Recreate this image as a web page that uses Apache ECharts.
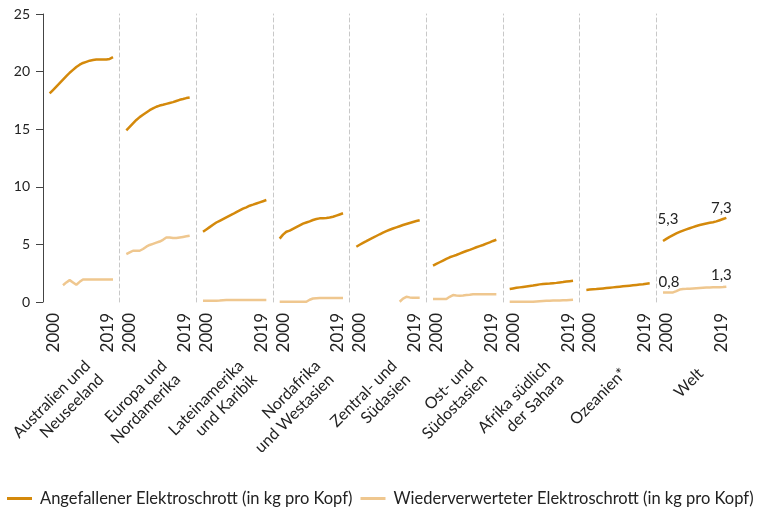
<!DOCTYPE html>
<html><head><meta charset="utf-8">
<script src="https://cdn.jsdelivr.net/npm/echarts@6/dist/echarts.min.js"></script>
<style>html,body{margin:0;padding:0;background:#fff}#c{width:771px;height:510px}</style>
</head><body><div id="c"></div>
<script>
// ---- data ----
const years = [2000,2001,2002,2003,2004,2005,2006,2007,2008,2009,2010,2011,2012,2013,2014,2015,2016,2017,2018,2019];
const regions = ['Australien und\nNeuseeland','Europa und\nNordamerika','Lateinamerika\nund Karibik','Nordafrika\nund Westasien','Zentral- und\nSüdasien','Ost- und\nSüdostasien','Afrika südlich\nder Sahara','Ozeanien*','Welt'];
const yTicks = [0,5,10,15,20,25];
const xTickLabels = [2000, 2019];
const seriesNames = ['Angefallener Elektroschrott (in kg pro Kopf)','Wiederverwerteter Elektroschrott (in kg pro Kopf)'];

const genAusNz  = [18.1,18.4,18.7,19.0,19.3,19.6,19.9,20.15,20.4,20.6,20.75,20.85,20.95,21.0,21.05,21.05,21.05,21.05,21.1,21.25];
const recAusNz  = [null,null,null,null,1.45,1.7,1.9,1.7,1.5,1.75,1.95,1.95,1.95,1.95,1.95,1.95,1.95,1.95,1.95,1.95];
const genEuNa   = [14.9,15.2,15.5,15.8,16.05,16.25,16.45,16.65,16.8,16.95,17.05,17.12,17.2,17.28,17.35,17.45,17.55,17.62,17.7,17.75];
const recEuNa   = [4.15,4.3,4.45,4.45,4.45,4.6,4.8,4.95,5.05,5.15,5.25,5.4,5.6,5.6,5.55,5.55,5.6,5.65,5.7,5.75];
const genLatAm  = [6.1,6.3,6.5,6.7,6.9,7.05,7.2,7.35,7.5,7.64,7.8,7.95,8.1,8.22,8.36,8.45,8.55,8.65,8.75,8.85];
const recLatAm  = [0.1,0.1,0.1,0.1,0.1,0.12,0.15,0.17,0.17,0.17,0.17,0.17,0.17,0.17,0.17,0.17,0.17,0.17,0.17,0.17];
const genNafWas = [5.5,5.85,6.1,6.2,6.35,6.5,6.65,6.8,6.9,7.0,7.12,7.2,7.26,7.28,7.3,7.33,7.4,7.5,7.6,7.7];
const recNafWas = [0.02,0.02,0.02,0.02,0.02,0.02,0.02,0.02,0.02,0.2,0.3,0.33,0.35,0.35,0.35,0.35,0.35,0.35,0.35,0.35];
const genZsa    = [4.8,4.97,5.13,5.28,5.44,5.58,5.73,5.88,6.02,6.15,6.27,6.38,6.48,6.58,6.68,6.77,6.86,6.95,7.03,7.1];
const recZsa    = [null,null,null,null,null,null,null,null,null,null,null,null,null,0.02,0.3,0.45,0.4,0.37,0.37,0.37];
const genOsa    = [3.15,3.3,3.45,3.6,3.75,3.88,3.98,4.08,4.2,4.32,4.43,4.53,4.64,4.75,4.85,4.95,5.07,5.18,5.3,5.4];
const recOsa    = [0.26,0.26,0.26,0.26,0.26,0.45,0.6,0.57,0.55,0.57,0.6,0.63,0.67,0.67,0.67,0.67,0.67,0.67,0.67,0.67];
const genSsa    = [1.13,1.18,1.23,1.27,1.31,1.35,1.39,1.43,1.48,1.53,1.57,1.59,1.6,1.63,1.66,1.7,1.73,1.77,1.81,1.85];
const recSsa    = [0.02,0.02,0.02,0.02,0.02,0.02,0.02,0.02,0.04,0.06,0.08,0.1,0.11,0.12,0.13,0.14,0.15,0.16,0.18,0.2];
const genOze    = [1.05,1.08,1.1,1.12,1.15,1.18,1.21,1.24,1.27,1.3,1.33,1.36,1.39,1.42,1.45,1.48,1.51,1.54,1.58,1.62];
const recOze    = [null,null,null,null,null,null,null,null,null,null,null,null,null,null,null,null,null,null,null,null];
const genWelt   = [5.3,5.48,5.65,5.8,5.95,6.08,6.2,6.3,6.4,6.5,6.6,6.68,6.75,6.82,6.88,6.93,7.0,7.1,7.2,7.3];
const recWelt   = [0.83,0.83,0.83,0.83,0.95,1.08,1.13,1.14,1.16,1.18,1.2,1.22,1.24,1.25,1.26,1.27,1.28,1.29,1.3,1.33];

const generated = [genAusNz,genEuNa,genLatAm,genNafWas,genZsa,genOsa,genSsa,genOze,genWelt];
const recycled  = [recAusNz,recEuNa,recLatAm,recNafWas,recZsa,recOsa,recSsa,recOze,recWelt];

// ---- layout / style ----
const FONT = 'Lato';
const TXT = '#222';
const C_GEN = '#d4890b';
const C_REC = '#efc78f';
const PL = 43, PW = 76.67, PT = 14, PH = 288;
const fmt = v => v.toFixed(1).replace('.', ',');

const grids = [], xAxes = [], yAxes = [], series = [];
regions.forEach((r, i) => {
  grids.push({left: PL + i * PW, top: PT, width: PW, height: PH, containLabel: false});
  xAxes.push({
    type: 'value', gridIndex: i, min: 1998, max: 2021, interval: 1,
    axisLine: {show: false}, axisTick: {show: false}, splitLine: {show: false},
    axisLabel: {
      rotate: 90, margin: 11, fontSize: 17, fontFamily: FONT, color: TXT,
      formatter: v => v === xTickLabels[0] ? '{a|' + v + '}' : (v === xTickLabels[1] ? '{b|' + v + '}' : ''),
      rich: {
        a: {fontSize: 17, fontFamily: FONT, color: TXT, padding: [7, 0, 0, 0]},
        b: {fontSize: 17, fontFamily: FONT, color: TXT, padding: [0, 0, 10, 0]}
      }
    }
  });
  yAxes.push(i === 0 ? {
    type: 'value', gridIndex: i, min: yTicks[0], max: yTicks[yTicks.length - 1], interval: yTicks[1] - yTicks[0],
    axisLine: {show: true, lineStyle: {color: '#444', width: 1}},
    axisTick: {show: true, length: 7, lineStyle: {color: '#444'}},
    splitLine: {show: false},
    axisLabel: {margin: 13, fontSize: 14, fontFamily: FONT, color: TXT}
  } : {
    type: 'value', gridIndex: i, min: yTicks[0], max: yTicks[yTicks.length - 1], interval: yTicks[1] - yTicks[0],
    axisLine: {show: true, lineStyle: {color: '#c8c8c8', width: 1, type: [4, 3]}},
    axisTick: {show: false}, axisLabel: {show: false}, splitLine: {show: false}
  });

  const isWelt = i === regions.length - 1;
  const mk = (arr, labelOffsets) => arr.map((v, k) => {
    const val = [years[k], v == null ? '-' : v];
    if (isWelt && labelOffsets && labelOffsets[k]) {
      return {value: val, label: {show: true, position: 'top', offset: labelOffsets[k], formatter: p => fmt(p.value[1]),
        fontSize: 15, fontFamily: FONT, color: TXT}};
    }
    return val;
  });
  series.push({
    name: seriesNames[1], type: 'line', xAxisIndex: i, yAxisIndex: i,
    data: mk(recycled[i], {0: [6, 2], 19: [-5, 1]}),
    showSymbol: isWelt, symbol: 'circle', symbolSize: 0,
    lineStyle: {color: C_REC, width: 2.5}, itemStyle: {color: C_REC},
    label: {show: false}, silent: true, z: 2
  });
  series.push({
    name: seriesNames[0], type: 'line', xAxisIndex: i, yAxisIndex: i,
    data: mk(generated[i], {0: [5, -9], 19: [-5, 3]}),
    showSymbol: isWelt, symbol: 'circle', symbolSize: 0,
    lineStyle: {color: C_GEN, width: 2.5}, itemStyle: {color: C_GEN},
    label: {show: false}, silent: true, z: 3
  });
});

const graphics = regions.map((name, i) => ({
  type: 'text',
  x: PL + (i + 0.5) * PW + (name.indexOf('\n') >= 0 ? 13 : 6),
  y: name.indexOf('\n') >= 0 ? 370 : 371,
  rotation: Math.PI / 4,
  style: {text: name, font: '16px ' + FONT, fill: TXT, align: 'right', verticalAlign: 'middle', lineHeight: 19}
}));

const chart = echarts.init(document.getElementById('c'), null, {renderer: 'canvas'});
chart.setOption({
  animation: false,
  backgroundColor: '#fff',
  grid: grids, xAxis: xAxes, yAxis: yAxes, series: series,
  graphic: graphics,
  legend: {
    data: seriesNames, left: 7, top: 490, padding: 0,
    icon: 'rect', itemWidth: 25, itemHeight: 3, itemGap: 8,
    textStyle: {fontSize: 16.5, fontFamily: FONT, color: TXT, padding: [0, 0, 0, 3]},
    selectedMode: false
  }
});
</script></body></html>
